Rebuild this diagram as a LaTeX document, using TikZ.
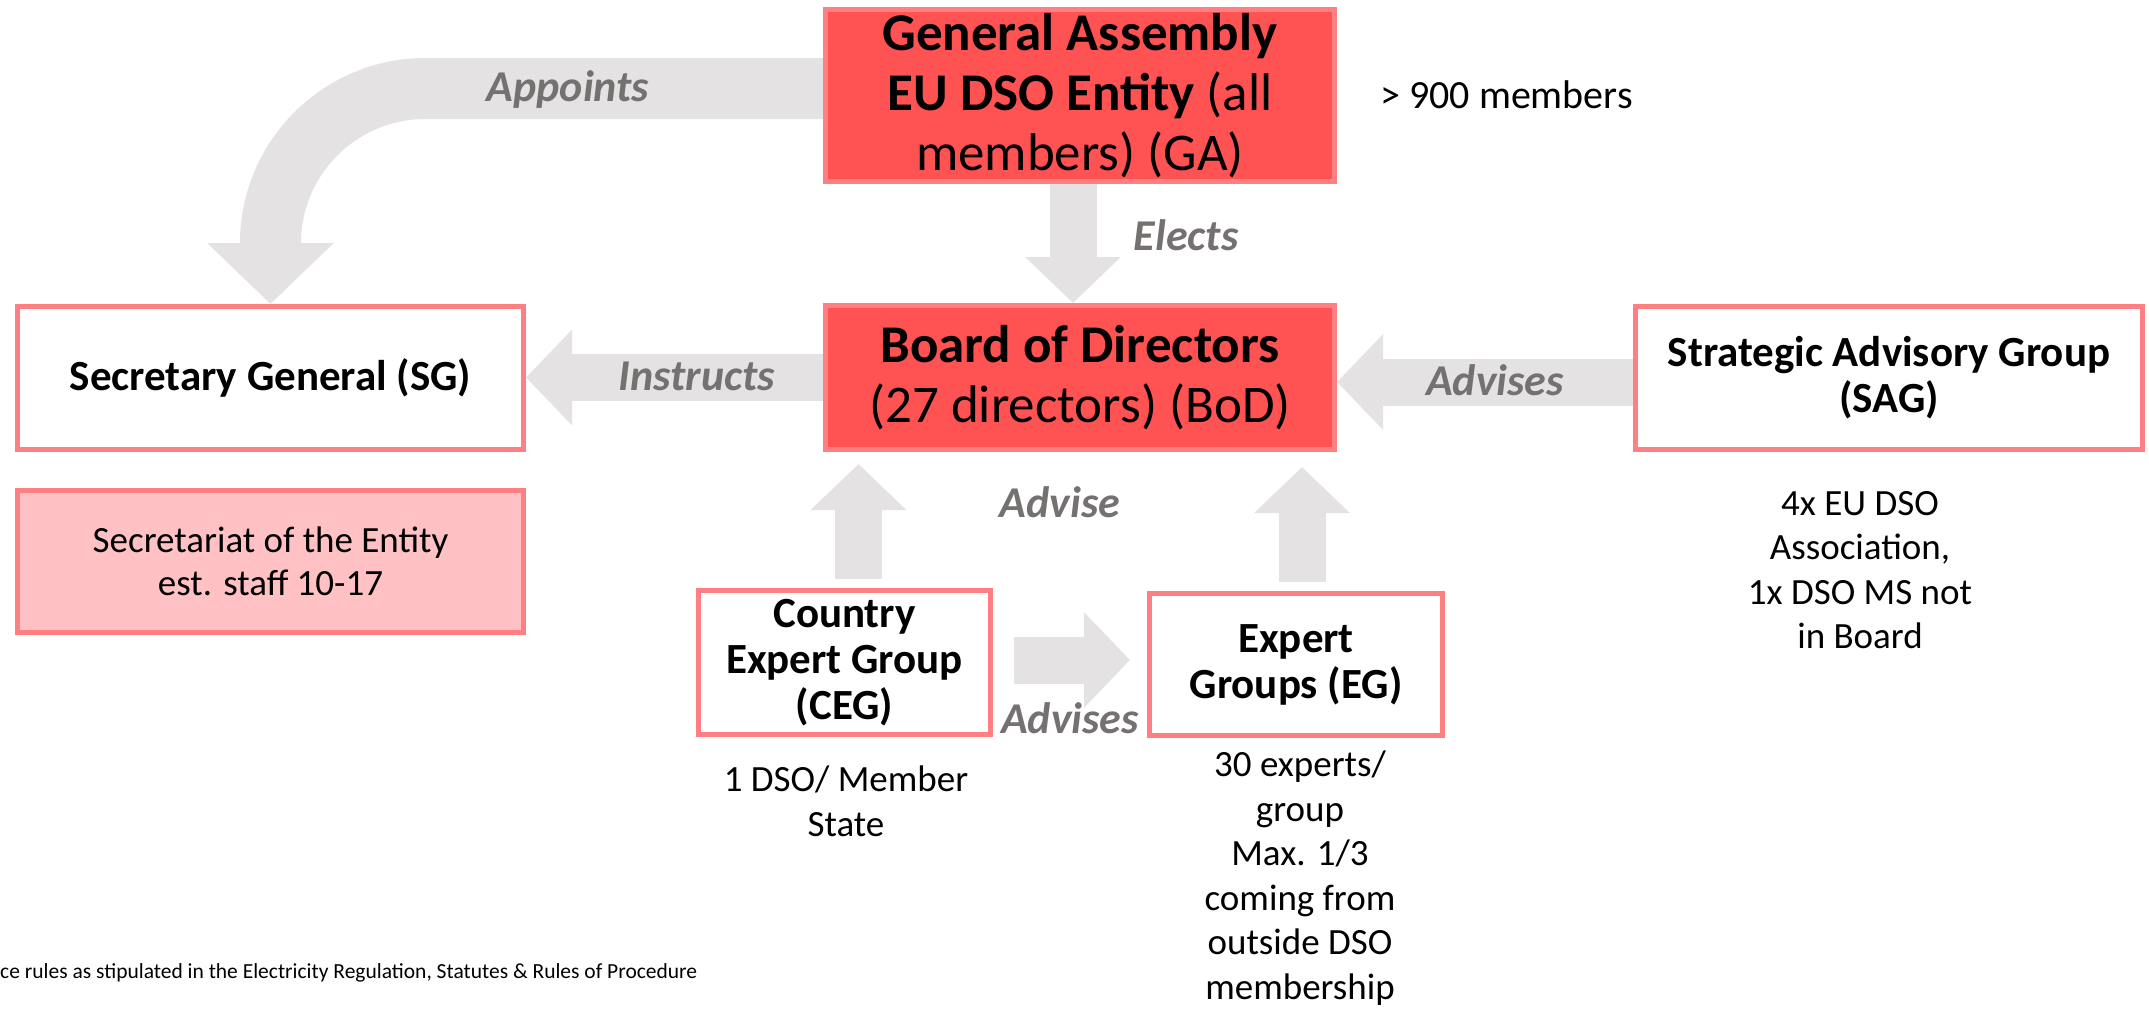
\documentclass[tikz,border=0pt]{standalone}
\usepackage{fontspec}
\setmainfont{Carlito}
\usepackage{tikz}
\usetikzlibrary{arrows.meta, backgrounds, positioning}
\definecolor{boxred}{HTML}{FF5252}
\definecolor{boxline}{HTML}{FF7F82}
\definecolor{staffpink}{HTML}{FFC1C3}
\definecolor{flowgray}{HTML}{E4E2E3}
\definecolor{labelgray}{HTML}{767171}
\tikzset{
  unitbox/.style={draw=boxline, line width=5pt, inner sep=0pt, align=center},
  redbox/.style={unitbox, fill=boxred, minimum width=509pt, font=\fontsize{53}{60}\selectfont},
  groupbox/.style={unitbox, fill=white, font=\bfseries\fontsize{43}{46}\selectfont},
  note/.style={inner sep=0pt, align=center, font=\fontsize{37}{44.5}\selectfont},
  flowlabel/.style={inner sep=0pt, text=labelgray, font=\bfseries\itshape\fontsize{44}{44}\selectfont},
  flow/.style={draw=flowgray, line width=47pt, -{Triangle[length=46pt, width=93pt]}},
  bigflow/.style={draw=flowgray, line width=61pt, -{Triangle[length=61pt, width=123pt]}}
}

\begin{document}
\begin{tikzpicture}[x=1pt, y=-1pt]
\useasboundingbox (0,0) rectangle (2149,1009);

% boards
\node[redbox, minimum height=172pt] (GA) at (1080,95.5) {\textbf{General Assembly}\\\textbf{EU DSO Entity} (all\\members) (GA)};
\node[redbox, minimum height=144pt] (BoD) at (1080,377.5) {\textbf{Board of Directors}\\(27 directors) (BoD)};

% groups
\node[groupbox, minimum width=506pt, minimum height=143pt] (SG) at (270.5,378) {Secretary General (SG)};
\node[unitbox, fill=staffpink, minimum width=506pt, minimum height=142pt, font=\fontsize{37}{43}\selectfont] (staff) at (270.5,561.5) {Secretariat of the Entity\\est. staff 10-17};
\node[groupbox, minimum width=507pt, minimum height=143pt] (SAG) at (1889,378) {Strategic Advisory Group\\(SAG)};
\node[groupbox, minimum width=292pt, minimum height=144pt] (CEG) at (844.5,662.5) {Country\\Expert Group\\(CEG)};
\node[groupbox, minimum width=293pt, minimum height=142pt] (EG) at (1296,664.5) {Expert\\Groups (EG)};

% notes
\node[note, anchor=base west, font=\fontsize{40}{44}\selectfont] (members) at (1380,108) {> 900 members};
\node[note, anchor=north] (sagnote) at (1860,491) {4x EU DSO\\Association,\\1x DSO MS not\\in Board};
\node[note, anchor=north] (cegnote) at (846,766) {1 DSO/ Member\\State};
\node[note, anchor=north] (egnote) at (1300,751) {30 experts/\\group\\Max. 1/3\\coming from\\outside DSO\\membership};
\node[inner sep=0pt, anchor=base west, font=\fontsize{21.5}{21.5}\selectfont] (rules) at (0,978) {ce rules as stipulated in the Electricity Regulation, Statutes \& Rules of Procedure};

% labels
\node[flowlabel, anchor=base] (appoints) at (568,101) {Appoints};
\node[flowlabel, anchor=base] (elects) at (1186,250) {Elects};
\node[flowlabel, anchor=base] (instructs) at (697,390) {Instructs};
\node[flowlabel, anchor=base] (sagadvises) at (1495,395) {Advises};
\node[flowlabel, anchor=base] (advise) at (1060,517) {Advise};
\node[flowlabel, anchor=base] (cegadvises) at (1070,733) {Advises};

% arrows
\coordinate (ceg up) at ([xshift=14pt,yshift=9pt]CEG.north);
\coordinate (eg up) at ([xshift=6pt,yshift=9pt]EG.north);
\coordinate (ceg right) at ([xshift=21pt,yshift=2.5pt]CEG.east);
\coordinate (sag left) at ([yshift=-4pt]SAG.west);
\begin{scope}[on background layer]
\draw[bigflow] ([yshift=7pt]GA.west) -- ++(-398,0) .. controls +(-84,0) and +(0,-86) .. ([yshift=61pt]SG.north) -- (SG.north);
\draw[flow] ([xshift=-7pt]GA.south) -- ([xshift=-7pt]BoD.north);
\draw[flow] (BoD.west) -- (SG.east |- BoD.west);
\draw[flow] (sag left) -- (sag left -| BoD.east);
\draw[flow] (ceg up) -- ([yshift=-12pt]BoD.south -| ceg up);
\draw[flow] (eg up) -- ([yshift=-15pt]BoD.south -| eg up);
\draw[flow] (ceg right) -- ([xshift=-17pt]EG.west |- ceg right);
\end{scope}

\end{tikzpicture}
\end{document}
